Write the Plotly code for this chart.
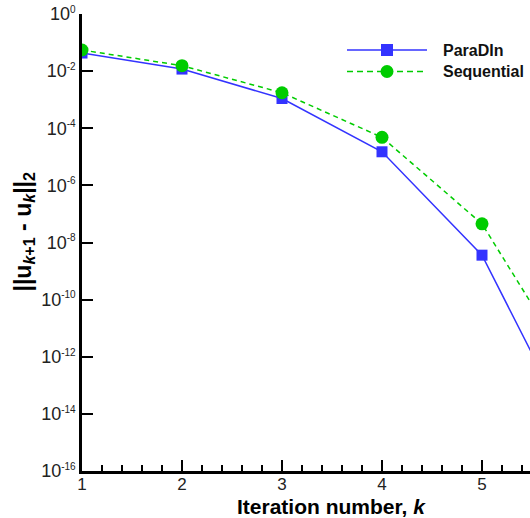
import plotly.graph_objects as go

iterations = [1, 2, 3, 4, 5, 6]
paradin = [4.3e-2, 1.18e-2, 1.1e-3, 1.5e-5, 3.6e-9, 4.7e-16]
sequential = [5.5e-2, 1.55e-2, 1.75e-3, 4.8e-5, 4.5e-8, 1.0e-13]
y_exponents = list(range(-16, 1, 2))
x_ticks = [1, 2, 3, 4, 5]
series_names = ["ParaDIn", "Sequential"]

BLUE = "rgb(51,51,255)"
GREEN = "rgb(0,204,0)"
FONT = "Liberation Sans, Arial, sans-serif"
DASH = "5px,4px"

# plot area spans 448 x 457 px (left 82, top 14 in the page)
PW, PH = 448.0, 457.0


def px_x(p):
    return p / PW


def px_y(p):
    return p / PH


fig = go.Figure()
fig.add_trace(go.Scatter(
    x=iterations, y=paradin, name=series_names[0], mode="lines+markers",
    line=dict(color=BLUE, width=1.5),
    marker=dict(symbol="square", size=11, color=BLUE),
    showlegend=False,
))
fig.add_trace(go.Scatter(
    x=iterations, y=sequential, name=series_names[1], mode="lines+markers",
    line=dict(color=GREEN, width=1.5, dash=DASH),
    marker=dict(symbol="circle", size=13, color=GREEN),
    showlegend=False,
))

# legend keys (drawn in paper space)
leg_x0, leg_x1, leg_xm, leg_text = px_x(265), px_x(345), px_x(305), px_x(359)
leg_y = [px_y(421), px_y(399.5)]
shapes = [
    dict(type="line", xref="paper", yref="paper", x0=leg_x0, x1=leg_x1, y0=leg_y[0], y1=leg_y[0],
         line=dict(color=BLUE, width=1.5)),
    dict(type="rect", xref="paper", yref="paper", xsizemode="pixel", ysizemode="pixel",
         xanchor=leg_xm, yanchor=leg_y[0], x0=-6, x1=6, y0=-6, y1=6,
         fillcolor=BLUE, line=dict(width=0)),
    dict(type="line", xref="paper", yref="paper", x0=leg_x0, x1=leg_x1, y0=leg_y[1], y1=leg_y[1],
         line=dict(color=GREEN, width=1.5, dash="6px,4px")),
    dict(type="circle", xref="paper", yref="paper", xsizemode="pixel", ysizemode="pixel",
         xanchor=leg_xm, yanchor=leg_y[1], x0=-6.5, x1=6.5, y0=-6.5, y1=6.5,
         fillcolor=GREEN, line=dict(width=0)),
]
annotations = [
    dict(text="<b>%s</b>" % name, xref="paper", yref="paper", x=leg_text, y=yy,
         xanchor="left", yanchor="middle", showarrow=False,
         font=dict(family=FONT, size=16, color="#111"))
    for name, yy in zip(series_names, leg_y)
]
annotations += [
    dict(text="<b>Iteration number, <i>k</i></b>", xref="paper", yref="paper",
         x=px_x(249), y=-px_y(36), xanchor="center", yanchor="middle", showarrow=False,
         font=dict(family=FONT, size=21, color="black")),
    dict(text="<b>||u<sub><i>k</i>+1</sub> - u<sub><i>k</i></sub>||<sub>2</sub></b>",
         xref="paper", yref="paper", x=-px_x(58), y=px_y(239.5), textangle=-90,
         xanchor="center", yanchor="middle", showarrow=False,
         font=dict(family=FONT, size=23, color="black")),
]

fig.update_layout(
    width=530, height=518,
    margin=dict(l=82, r=0, t=14, b=47),
    plot_bgcolor="white", paper_bgcolor="white",
    font=dict(family=FONT, size=16, color="#222"),
    showlegend=False,
    shapes=shapes,
    annotations=annotations,
)
fig.update_xaxes(
    range=[1, 5.48], tickvals=x_ticks, ticktext=[str(v) for v in x_ticks],
    ticks="inside", ticklen=11, tickwidth=2, tickcolor="black",
    showline=True, linecolor="black", linewidth=2.5,
    showgrid=False, zeroline=False, automargin=False,
    minor=dict(dtick=0.2, ticks="inside", ticklen=6, tickwidth=1.5, tickcolor="black", showgrid=False),
    tickfont=dict(size=17, color="#222"), ticklabelstandoff=-4,
)
fig.update_yaxes(
    type="log", range=[-16, 0],
    tickvals=[10.0 ** e for e in y_exponents],
    ticktext=["10<sup><span style='font-size:10px'>%d</span></sup>" % e for e in y_exponents],
    ticks="inside", ticklen=11, tickwidth=2, tickcolor="black",
    showline=True, linecolor="black", linewidth=2.5,
    showgrid=False, zeroline=False, automargin=False,
    tickfont=dict(size=18, color="#222"),
)
fig.write_html("out.html", config={"displayModeBar": False},
               post_script="document.body.style.margin='0';")
